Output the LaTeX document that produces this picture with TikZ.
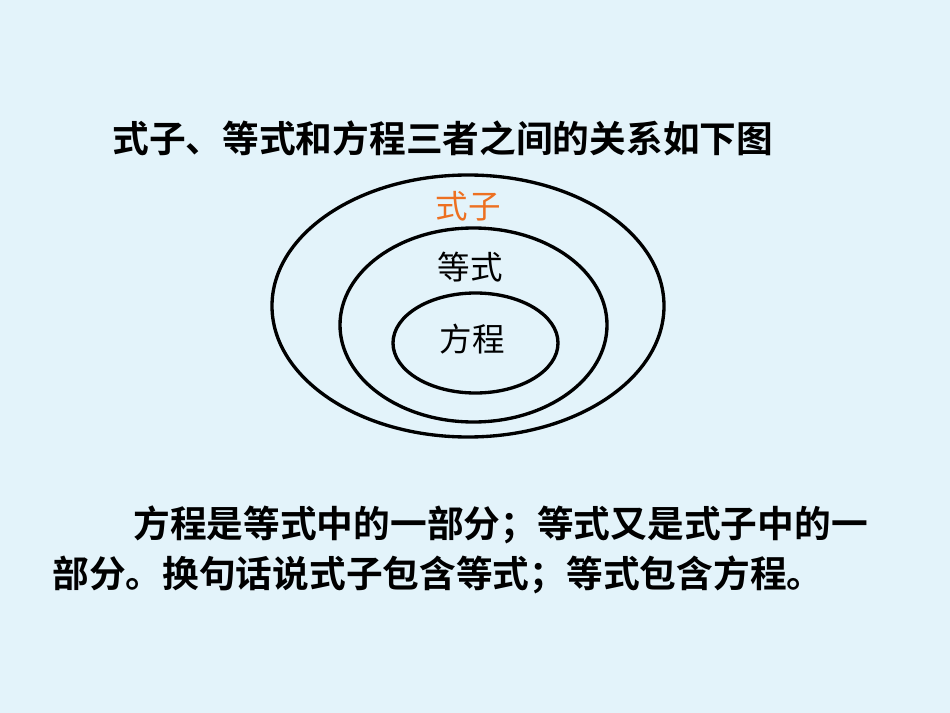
\documentclass[tikz,border=0pt]{standalone}
\usepackage{fontspec}
\usepackage{tikz}
\usetikzlibrary{positioning}
\newfontfamily\cjk{Noto Sans CJK SC}
\newfontfamily\cjkbold{Noto Sans CJK SC Bold}
\definecolor{bgblue}{rgb}{0.89,0.953,0.98}
\definecolor{labelorange}{rgb}{0.93,0.44,0.13}
\begin{document}
\begin{tikzpicture}[line cap=round,line join=round,x=0.02cm,y=-0.02cm]
\fill[color=bgblue] (0,0) rectangle (950,713);
\useasboundingbox (0,0) rectangle (950,713);
%\draw[help lines] (0,0) grid (950,713);
\draw[line width=1.9pt] (468,306) ellipse (196 and 131);
\draw[line width=1.9pt] (473.5,325) ellipse (133.5 and 97);
\draw[line width=1.9pt] (475.5,343) ellipse (82.5 and 50);
\node[color=labelorange,font=\cjk\fontsize{18.5pt}{22pt}\selectfont] (shizi) at (468,206) {式子};
\node[color=black,font=\cjk\fontsize{18.5pt}{22pt}\selectfont] (dengshi) at (470,267) {等式};
\node[color=black,font=\cjk\fontsize{18.5pt}{22pt}\selectfont] (fangcheng) at (472,339) {方程};
\node[anchor=west,inner sep=0pt,font=\cjkbold\fontsize{20.9pt}{26pt}\selectfont] (title) at (112,138) {式子、等式和方程三者之间的关系如下图};
\node[anchor=west,inner sep=0pt,font=\cjkbold\fontsize{20.9pt}{25pt}\selectfont] (lineone) at (133,525) {方程是等式中的一部分；等式又是式子中的一};
\node[anchor=west,inner sep=0pt,font=\cjkbold\fontsize{20.9pt}{25pt}\selectfont] (linetwo) at (52,575) {部分。换句话说式子包含等式；等式包含方程。};
\end{tikzpicture}
\end{document}
